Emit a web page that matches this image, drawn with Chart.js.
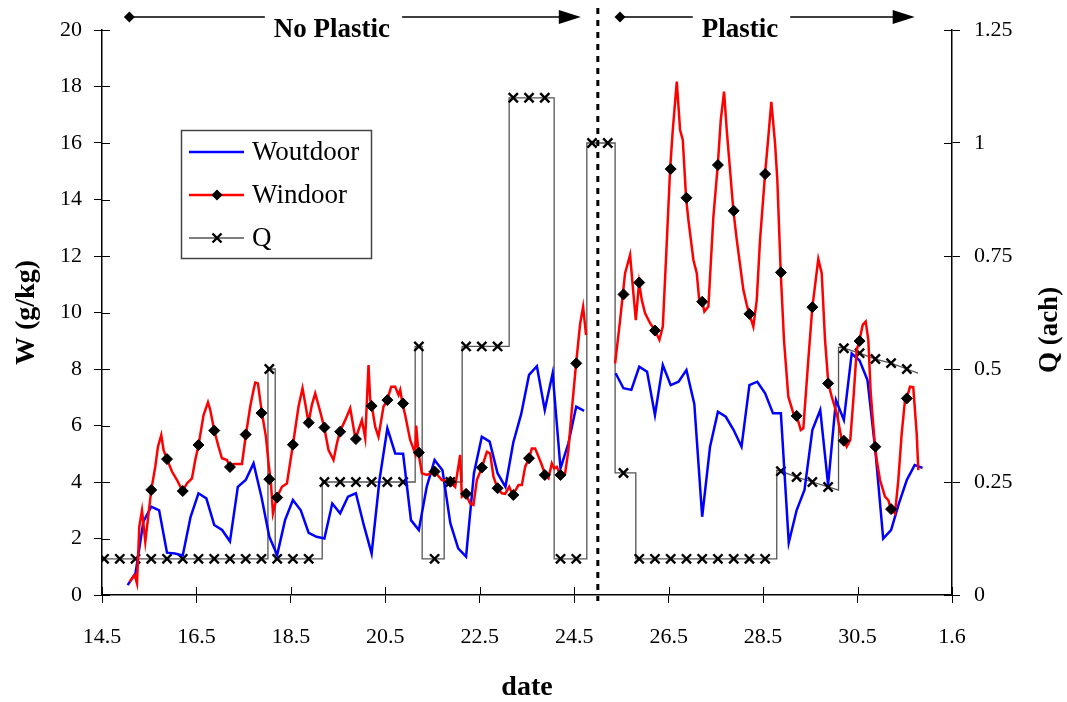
<!DOCTYPE html>
<html>
<head>
<meta charset="utf-8">
<title>W and Q</title>
<script src="https://cdn.jsdelivr.net/npm/chart.js@4/dist/chart.umd.min.js"></script>
<style>
  html, body { margin: 0; padding: 0; background: #fff; }
  #canvas { display: block; }
</style>
</head>
<body>
<canvas id="canvas" width="1067" height="702"></canvas>
<script>
// date axis: day of month, labels every 2 days (14 May .. 1 June)
const tickDays = [14.5, 16.5, 18.5, 20.5, 22.5, 24.5, 26.5, 28.5, 30.5, 32.5];
const tickLabels = ['14.5', '16.5', '18.5', '20.5', '22.5', '24.5', '26.5', '28.5', '30.5', '1.6'];

// outdoor humidity ratio (g/kg), one reading every 4 h from day 15.043
const outdoorStart = 15.043;
const outdoorStepHours = 4;
const woutdoor = [
  0.35, 0.77, 2.6, 3.13, 3.0, 1.5, 1.47, 1.4, 2.77, 3.6,
  3.42, 2.48, 2.3, 1.9, 3.83, 4.07, 4.66, 3.48, 2.06, 1.42,
  2.65, 3.36, 3.0, 2.2, 2.06, 2.0, 3.24, 2.89, 3.48, 3.6,
  2.48, 1.47, 4.07, 5.9, 5.01, 5.0, 2.65, 2.3, 3.83, 4.78,
  4.42, 2.54, 1.65, 1.36, 4.31, 5.6, 5.43, 4.31, 3.83, 5.4,
  6.4, 7.79, 8.1, 6.55, 7.85, 4.48, 5.37, 6.67, 6.52, null,
  null, null, 7.85, 7.32, 7.26, 8.08, 7.9, 6.37, 8.14, 7.43,
  7.55, 7.96, 6.76, 2.77, 5.25, 6.49, 6.31, 5.84, 5.25, 7.43,
  7.55, 7.14, 6.43, 6.43, 1.85, 3.0, 3.72, 5.84, 6.55, 3.9,
  6.9, 6.2, 8.55, 8.3, 7.61, 5.13, 2.0, 2.3, 3.24, 4.07,
  4.6, 4.5
];

// indoor humidity ratio (g/kg)
const indoorDays = [
  15.084, 15.19, 15.241, 15.29, 15.347, 15.417, 15.544, 15.628, 15.685, 15.755,
  15.804, 15.876, 15.982, 16.088, 16.206, 16.299, 16.405, 16.475, 16.545, 16.651,
  16.744, 16.793, 16.877, 16.968, 17.04, 17.146, 17.21, 17.286, 17.464, 17.548,
  17.639, 17.709, 17.745, 17.802, 17.887, 17.972, 18.027, 18.077, 18.12, 18.154,
  18.204, 18.31, 18.416, 18.543, 18.662, 18.746, 18.804, 18.873, 18.945, 19.015,
  19.121, 19.206, 19.297, 19.403, 19.475, 19.538, 19.65, 19.756, 19.868, 19.932,
  20.004, 20.074, 20.144, 20.18, 20.215, 20.285, 20.355, 20.461, 20.539, 20.624,
  20.709, 20.779, 20.815, 20.863, 20.92, 21.026, 21.132, 21.153, 21.202, 21.274,
  21.38, 21.541, 21.697, 21.873, 21.979, 22.085, 22.121, 22.205, 22.296, 22.366,
  22.438, 22.544, 22.65, 22.72, 22.79, 22.874, 22.967, 23.037, 23.122, 23.2,
  23.319, 23.391, 23.461, 23.545, 23.602, 23.672, 23.742, 23.814, 23.884, 23.954,
  24.026, 24.075, 24.132, 24.202, 24.307, 24.377, 24.449, 24.54, 24.625, 24.688,
  24.751, 25.0, 25.366, 25.472, 25.529, 25.577, 25.683, 25.753, 25.804, 25.874,
  25.931, 26.001, 26.107, 26.213, 26.304, 26.376, 26.446, 26.531, 26.587, 26.672,
  26.742, 26.799, 26.869, 26.918, 27.024, 27.095, 27.15, 27.214, 27.256, 27.341,
  27.447, 27.54, 27.603, 27.673, 27.73, 27.8, 27.871, 27.942, 28.082, 28.154,
  28.209, 28.293, 28.365, 28.435, 28.541, 28.611, 28.674, 28.753, 28.801, 28.873,
  28.943, 29.034, 29.14, 29.212, 29.297, 29.352, 29.457, 29.542, 29.669, 29.741,
  29.811, 29.881, 29.953, 30.059, 30.165, 30.213, 30.27, 30.346, 30.41, 30.482,
  30.537, 30.609, 30.673, 30.728, 30.779, 30.87, 30.906, 30.976, 31.081, 31.151,
  31.208, 31.293, 31.363, 31.435, 31.505, 31.541, 31.611, 31.68, 31.752, 31.787
];
const windoor = [
  0.47, 0.71, 0.41, 2.42, 3.0, 1.89, 3.72, 4.54, 5.25, 5.66,
  5.13, 4.81, 4.37, 4.07, 3.68, 3.95, 4.13, 4.78, 5.31, 6.37,
  6.82, 6.55, 5.82, 5.25, 4.84, 4.78, 4.53, 4.64, 4.64, 5.68,
  6.67, 7.26, 7.52, 7.49, 6.44, 5.6, 4.66, 3.98, 2.89, 3.13,
  3.45, 3.83, 3.95, 5.32, 6.67, 7.32, 6.78, 6.1, 6.73, 7.14,
  6.49, 5.93, 5.13, 4.78, 5.37, 5.78, 6.19, 6.61, 5.52, 5.84,
  6.19, 5.55, 8.14, 6.9, 6.69, 5.96, 5.6, 6.67, 6.9, 7.37,
  7.37, 7.08, 7.26, 6.78, 6.37, 5.49, 5.01, 6.0, 5.04, 4.31,
  4.25, 4.37, 4.07, 4.01, 3.83, 4.96, 3.48, 3.58, 3.24, 3.19,
  4.07, 4.51, 5.07, 5.01, 4.19, 3.78, 3.6, 3.58, 3.83, 3.54,
  3.89, 3.89, 4.54, 4.84, 5.19, 5.19, 4.9, 4.6, 4.25, 4.13,
  4.66, 4.48, 4.54, 4.25, 4.31, 5.13, 6.55, 8.2, 9.6, 10.2,
  9.2, null, 8.2, 9.73, 10.64, 11.39, 12.04, 10.68, 9.73, 11.06,
  10.44, 9.97, 9.62, 9.36, 9.03, 9.5, 11.98, 15.08, 16.46, 18.17,
  16.46, 16.11, 14.06, 13.27, 11.86, 11.39, 10.38, 10.38, 10.03, 10.21,
  13.39, 15.22, 16.81, 17.82, 16.46, 15.04, 13.6, 12.57, 10.8, 10.27,
  9.95, 9.5, 10.44, 12.57, 14.9, 16.22, 17.46, 15.99, 14.69, 11.42,
  9.0, 7.02, 6.43, 6.34, 5.84, 5.9, 8.32, 10.17, 11.89, 11.39,
  9.03, 7.49, 7.02, 6.43, 5.49, 5.46, 5.25, 5.49, 6.9, 8.67,
  8.99, 9.56, 9.68, 9.03, 7.14, 5.25, 4.78, 4.07, 3.48, 3.36,
  3.04, 2.89, 4.07, 5.72, 6.9, 6.96, 7.37, 7.35, 5.72, 4.42
];

// indoor readings at the 8-hourly sample times (diamonds)
const indoorMarkDays = [
  15.543, 15.877, 16.21, 16.543, 16.877, 17.21, 17.543, 17.877, 18.043, 18.21,
  18.543, 18.877, 19.21, 19.543, 19.877, 20.21, 20.543, 20.877, 21.21, 21.543,
  21.877, 22.21, 22.543, 22.877, 23.21, 23.543, 23.877, 24.21, 24.543, 25.543,
  25.877, 26.21, 26.543, 26.877, 27.21, 27.543, 27.877, 28.21, 28.543, 28.877,
  29.21, 29.543, 29.877, 30.21, 30.543, 30.877, 31.21, 31.543
];
const indoorMarks = [
  3.72, 4.81, 3.68, 5.31, 5.82, 4.53, 5.68, 6.44, 4.1, 3.45,
  5.32, 6.1, 5.93, 5.78, 5.52, 6.69, 6.9, 6.78, 5.04, 4.37,
  4.01, 3.58, 4.51, 3.78, 3.54, 4.84, 4.25, 4.25, 8.2, 10.64,
  11.06, 9.36, 15.08, 14.06, 10.38, 15.22, 13.6, 9.95, 14.9, 11.42,
  6.34, 10.19, 7.49, 5.46, 8.99, 5.25, 3.04, 6.96
];

// ventilation rate Q (ach); step corners carry no marker
const qDays = [
  14.543, 14.877, 15.21, 15.543, 15.877, 16.21, 16.543, 16.877, 17.21, 17.543,
  17.877, 18.014, 18.014, 18.043, 18.168, 18.168, 18.21, 18.543, 18.877, 19.163,
  19.163, 19.21, 19.543, 19.877, 20.21, 20.543, 20.877, 21.132, 21.132, 21.21,
  21.28, 21.28, 21.543, 21.746, 21.746, 21.877, 22.127, 22.127, 22.21, 22.543,
  22.877, 23.122, 23.122, 23.21, 23.543, 23.877, 24.075, 24.075, 24.21, 24.543,
  24.767, 24.767, 24.877, 25.21, 25.366, 25.366, 25.543, 25.804, 25.804, 25.877,
  26.21, 26.543, 26.877, 27.21, 27.543, 27.877, 28.21, 28.543, 28.789, 28.789,
  28.877, 29.21, 29.543, 29.877, 30.097, 30.097, 30.21, 30.543, 30.877, 31.21,
  31.543, 31.78
];
const qValues = [
  0.08, 0.08, 0.08, 0.08, 0.08, 0.08, 0.08, 0.08, 0.08, 0.08,
  0.08, 0.08, 0.5, 0.5, 0.5, 0.08, 0.08, 0.08, 0.08, 0.08,
  0.25, 0.25, 0.25, 0.25, 0.25, 0.25, 0.25, 0.25, 0.55, 0.55,
  0.55, 0.08, 0.08, 0.08, 0.25, 0.25, 0.25, 0.55, 0.55, 0.55,
  0.55, 0.55, 1.1, 1.1, 1.1, 1.1, 1.1, 0.08, 0.08, 0.08,
  0.08, 1.0, 1.0, 1.0, 1.0, 0.27, 0.27, 0.27, 0.08, 0.08,
  0.08, 0.08, 0.08, 0.08, 0.08, 0.08, 0.08, 0.08, 0.08, 0.276,
  0.274, 0.261, 0.25, 0.239, 0.232, 0.548, 0.546, 0.535, 0.522, 0.513,
  0.5, 0.491
];
const qMarked = [
  1, 1, 1, 1, 1, 1, 1, 1, 1, 1,
  1, 0, 0, 1, 0, 0, 1, 1, 1, 0,
  0, 1, 1, 1, 1, 1, 1, 0, 0, 1,
  0, 0, 1, 0, 0, 1, 0, 0, 1, 1,
  1, 0, 0, 1, 1, 1, 0, 0, 1, 1,
  0, 0, 1, 1, 0, 0, 1, 0, 0, 1,
  1, 1, 1, 1, 1, 1, 1, 1, 0, 0,
  1, 1, 1, 1, 0, 0, 1, 1, 1, 1,
  1, 0
];

// plastic sheet installed at day 25
const plasticDay = 25.0;
const periods = [
  { label: 'No Plastic', from: 15.08, to: 24.64, textAt: 19.37 },
  { label: 'Plastic', from: 25.47, to: 31.71, textAt: 28.01 }
];

const serif = '"Liberation Serif", "Times New Roman", Times, serif';
Chart.defaults.font.family = serif;
Chart.defaults.color = '#000';

const outdoorPoints = woutdoor.map((v, i) => ({ x: outdoorStart + i * outdoorStepHours / 24, y: v }));
const indoorPoints = windoor.map((v, i) => ({ x: indoorDays[i], y: v }));
const markPoints = indoorMarks.map((v, i) => ({ x: indoorMarkDays[i], y: v }));
const qPoints = qValues.map((v, i) => ({ x: qDays[i], y: v }));

function drawMark(ctx, style, x, y) {
    ctx.beginPath();
    if (style === 'diamond') {
        ctx.moveTo(x - 5.5, y);
        ctx.lineTo(x, y - 5.5);
        ctx.lineTo(x + 5.5, y);
        ctx.lineTo(x, y + 5.5);
        ctx.closePath();
        ctx.fill();
    } else {
        ctx.lineWidth = 2.4;
        ctx.moveTo(x - 4.5, y - 4.5);
        ctx.lineTo(x + 4.5, y + 4.5);
        ctx.moveTo(x - 4.5, y + 4.5);
        ctx.lineTo(x + 4.5, y - 4.5);
        ctx.stroke();
    }
}

// tick marks cross the axis lines: draw the inner half
const crossTicks = {
    id: 'crossTicks',
    afterDraw(chart) {
        const { ctx, chartArea: a, scales } = chart;
        ctx.save();
        ctx.strokeStyle = '#000';
        ctx.lineWidth = 1;
        ctx.beginPath();
        scales.x.ticks.forEach(t => {
            const px = Math.round(scales.x.getPixelForValue(t.value)) + 0.5;
            ctx.moveTo(px, a.bottom);
            ctx.lineTo(px, a.bottom - 8);
        });
        scales.y.ticks.forEach(t => {
            const py = Math.round(scales.y.getPixelForValue(t.value)) + 0.5;
            ctx.moveTo(a.left, py);
            ctx.lineTo(a.left + 8, py);
        });
        scales.y1.ticks.forEach(t => {
            const py = Math.round(scales.y1.getPixelForValue(t.value)) + 0.5;
            ctx.moveTo(a.right - 8, py);
            ctx.lineTo(a.right, py);
        });
        ctx.stroke();
        ctx.restore();
    }
};

// dotted divider and the period arrows along the top
const periodMarks = {
    id: 'periodMarks',
    afterDraw(chart) {
        const { ctx, chartArea: a } = chart;
        const xs = chart.scales.x;
        const yArrow = 17;
        ctx.save();
        const xd = xs.getPixelForValue(plasticDay);
        ctx.strokeStyle = '#000';
        ctx.lineWidth = 3;
        ctx.setLineDash([6, 6]);
        ctx.beginPath();
        ctx.moveTo(xd, 8);
        ctx.lineTo(xd, a.bottom + 6);
        ctx.stroke();
        ctx.setLineDash([]);

        ctx.font = 'bold 27px ' + serif;
        ctx.textAlign = 'center';
        ctx.textBaseline = 'alphabetic';
        ctx.fillStyle = '#000';
        ctx.lineWidth = 1.5;
        periods.forEach(p => {
            const x0 = xs.getPixelForValue(p.from);
            const x1 = xs.getPixelForValue(p.to);
            const xt = xs.getPixelForValue(p.textAt);
            const w = ctx.measureText(p.label).width;
            ctx.beginPath();
            ctx.moveTo(x0, yArrow);
            ctx.lineTo(xt - w / 2 - 9, yArrow);
            ctx.moveTo(xt + w / 2 + 12, yArrow);
            ctx.lineTo(x1 - 20, yArrow);
            ctx.stroke();
            ctx.beginPath();
            ctx.moveTo(x1 - 22, yArrow - 7);
            ctx.lineTo(x1, yArrow);
            ctx.lineTo(x1 - 22, yArrow + 7);
            ctx.closePath();
            ctx.fill();
            drawMark(ctx, 'diamond', x0, yArrow);
            ctx.fillText(p.label, xt, 37);
        });
        ctx.restore();
    }
};

// boxed legend inside the plot
const boxLegend = {
    id: 'boxLegend',
    afterDraw(chart) {
        const ctx = chart.ctx;
        const items = chart.data.datasets.filter(d => d.inLegend);
        ctx.save();
        ctx.strokeStyle = '#444';
        ctx.lineWidth = 1.5;
        ctx.strokeRect(181.5, 130.5, 190, 128);
        ctx.font = '27px ' + serif;
        ctx.textAlign = 'left';
        ctx.textBaseline = 'middle';
        items.forEach((d, i) => {
            const y = 152 + i * 43;
            ctx.strokeStyle = d.borderColor;
            ctx.lineWidth = d.borderWidth;
            ctx.beginPath();
            ctx.moveTo(189, y);
            ctx.lineTo(244, y);
            ctx.stroke();
            if (d.legendMark) {
                ctx.fillStyle = '#000';
                ctx.strokeStyle = '#000';
                drawMark(ctx, d.legendMark, 217, y);
            }
            ctx.fillStyle = '#000';
            ctx.fillText(d.label, 252, y + 1);
        });
        ctx.restore();
    }
};

// right axis title, read bottom to top like the left one
const rightTitle = {
    id: 'rightTitle',
    afterDraw(chart) {
        const ctx = chart.ctx;
        ctx.save();
        ctx.translate(1050, 330);
        ctx.rotate(-Math.PI / 2);
        ctx.font = 'bold 27px ' + serif;
        ctx.textAlign = 'center';
        ctx.textBaseline = 'middle';
        ctx.fillStyle = '#000';
        ctx.fillText('Q (ach)', 0, 0);
        ctx.restore();
    }
};

const tickFont = { size: 22 };
const titleFont = { size: 28, weight: 'bold', lineHeight: 1 };

new Chart(document.getElementById('canvas'), {
    type: 'line',
    data: {
        datasets: [{
            label: 'Windoor marks',
            data: markPoints,
            showLine: false,
            pointStyle: 'rectRot',
            pointRadius: 5.5,
            pointBackgroundColor: '#000',
            pointBorderColor: '#000',
            pointBorderWidth: 1,
            yAxisID: 'y',
            order: 1
        }, {
            label: 'Woutdoor',
            inLegend: true,
            data: outdoorPoints,
            borderColor: '#0000ff',
            borderWidth: 2.5,
            pointRadius: 0,
            tension: 0,
            yAxisID: 'y',
            order: 3
        }, {
            label: 'Windoor',
            inLegend: true,
            legendMark: 'diamond',
            data: indoorPoints,
            borderColor: '#ff0000',
            borderWidth: 2.5,
            pointRadius: 0,
            tension: 0,
            yAxisID: 'y',
            order: 2
        }, {
            label: 'Q',
            inLegend: true,
            legendMark: 'cross',
            data: qPoints,
            borderColor: '#555',
            borderWidth: 1.3,
            pointStyle: 'crossRot',
            pointRadius: ctx => qMarked[ctx.dataIndex] ? 6.5 : 0,
            pointBorderColor: '#000',
            pointBorderWidth: 2.4,
            tension: 0,
            yAxisID: 'y1',
            order: 4
        }]
    },
    options: {
        responsive: false,
        animation: false,
        events: [],
        layout: { padding: { top: 30, left: 0, right: 0, bottom: 0 } },
        plugins: {
            legend: { display: false },
            tooltip: { enabled: false }
        },
        scales: {
            x: {
                type: 'linear',
                min: 14.5,
                max: 32.5,
                afterBuildTicks: s => { s.ticks = tickDays.map(v => ({ value: v })); },
                afterFit: s => { s.height = 107; },
                ticks: {
                    callback: (v, i) => tickLabels[i],
                    autoSkip: false,
                    maxRotation: 0,
                    minRotation: 0,
                    padding: 21,
                    font: tickFont,
                    color: '#000'
                },
                grid: { drawOnChartArea: false, tickLength: 8, color: '#000', lineWidth: 1 },
                border: { color: '#000', width: 1.5 },
                title: { display: true, text: 'date', font: titleFont, color: '#000', padding: { top: 0, bottom: 0 } }
            },
            y: {
                position: 'left',
                min: 0,
                max: 20,
                afterFit: s => { s.width = 102; },
                ticks: { stepSize: 2, callback: v => String(v), padding: 12, font: tickFont, color: '#000' },
                grid: { drawOnChartArea: false, tickLength: 8, color: '#000', lineWidth: 1 },
                border: { color: '#000', width: 1.5 },
                title: { display: true, text: 'W (g/kg)', font: titleFont, color: '#000', padding: { top: 13, bottom: 0 } }
            },
            y1: {
                position: 'right',
                min: 0,
                max: 1.25,
                afterFit: s => { s.width = 115; },
                ticks: { stepSize: 0.25, callback: v => String(v), padding: 14, font: tickFont, color: '#000' },
                grid: { drawOnChartArea: false, tickLength: 8, color: '#000', lineWidth: 1 },
                border: { color: '#000', width: 1.5 }
            }
        }
    },
    plugins: [crossTicks, periodMarks, boxLegend, rightTitle]
});
</script>
</body>
</html>
